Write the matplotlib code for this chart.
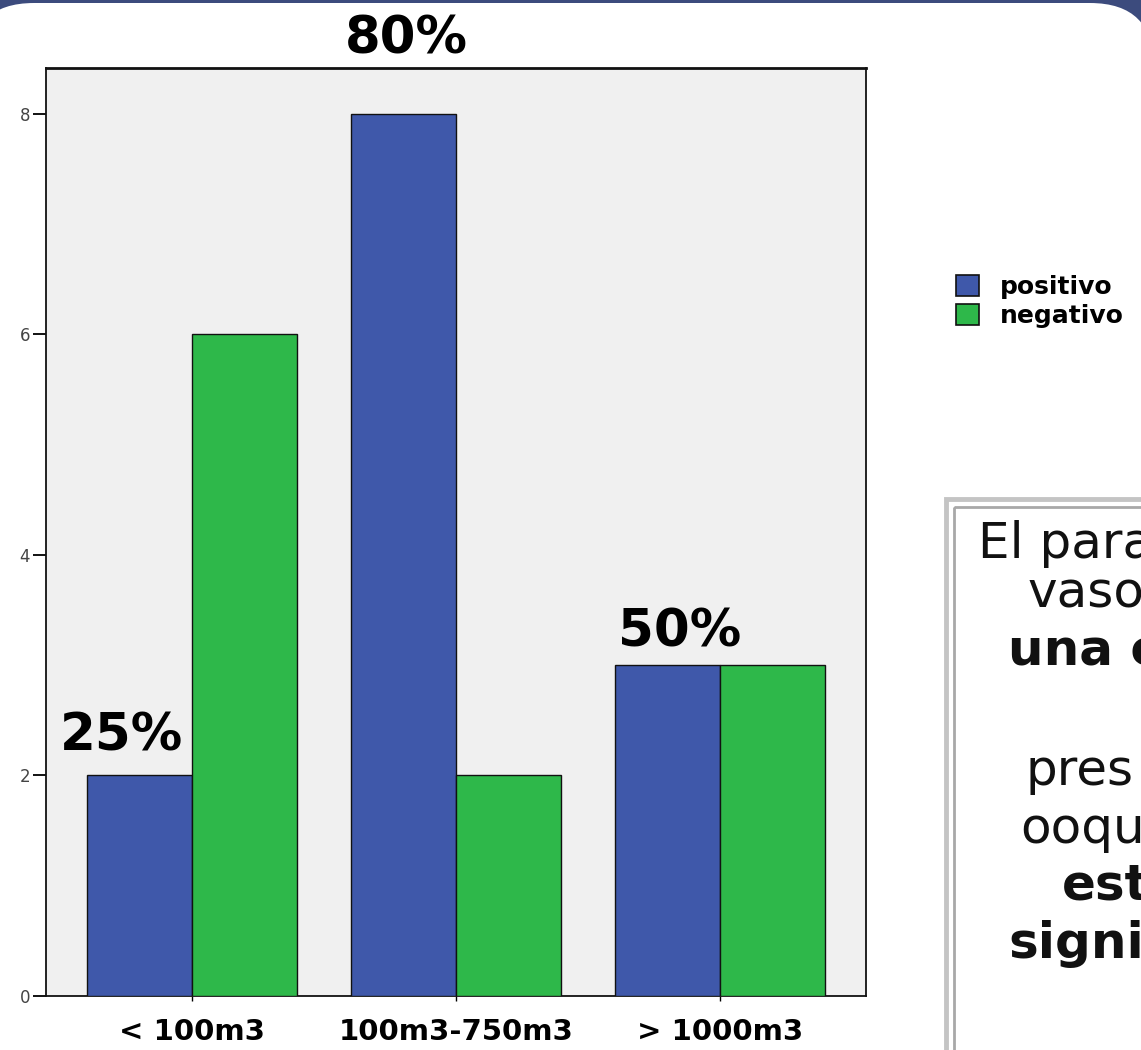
import matplotlib
matplotlib.use("Agg")
import matplotlib.pyplot as plt
from matplotlib.patches import FancyBboxPatch, Rectangle, Patch
import numpy as np

# ---- data ----
categories = ["< 100m3", "100m3-750m3", "> 1000m3"]
positivo = [2, 8, 3]
negativo = [6, 2, 3]
series_names = ["positivo", "negativo"]
pct_labels = ["25%", "80%", "50%"]
y_ticks = [0, 2, 4, 6, 8]
box_lines = ["El para", "vaso", "una c", "pres", "ooqu", "est", "signi"]
box_bold = [False, False, True, False, False, True, True]

W, H = 1141, 1050
fig = plt.figure(figsize=(W / 100, H / 100), dpi=100)
fig.patch.set_facecolor("#3C4B7D")

# slide background (white rounded panel) and decorations, in pixel coords
bg = fig.add_axes([0, 0, 1, 1], zorder=0)
bg.set_xlim(0, W)
bg.set_ylim(H, 0)
bg.axis("off")
bg.add_patch(FancyBboxPatch((-30, 3), 1184, 1300,
                            boxstyle="round,pad=0,rounding_size=64",
                            facecolor="white", edgecolor="none"))

# text box with double gray border (cut off at the slide edge)
bg.add_patch(Rectangle((946, 499), 400, 700, facecolor="white",
                       edgecolor="#c4c4c4", lw=3.5))
bg.add_patch(Rectangle((954, 507), 400, 700, facecolor="none",
                       edgecolor="#a8a8a8", lw=2))
line_x = [978, 1028, 1008, 1025, 1020, 1062, 1008]
line_y = [558, 608, 666, 785, 843, 900, 958]
for txt, bold, lx, ly in zip(box_lines, box_bold, line_x, line_y):
    bg.text(lx, ly, txt, fontsize=36, fontweight="bold" if bold else "normal",
            color="#111111", ha="left", va="baseline", family="DejaVu Sans")

# ---- chart ----
ax = fig.add_axes([46 / W, 1 - 996 / H, 820 / W, 928 / H], zorder=2)
ax.set_facecolor("#F0F0F0")
x = np.arange(len(categories))
w = 0.397
blue = "#3F58AA"
green = "#2EB84A"
ax.bar(x - w / 2, positivo, width=w, color=blue, edgecolor="#111111", lw=1.0, zorder=3)
ax.bar(x + w / 2, negativo, width=w, color=green, edgecolor="#111111", lw=1.0, zorder=3)

ax.set_xlim(-0.552, 2.552)
ax.set_ylim(0, 8.417)
ax.set_yticks(y_ticks)
ax.set_yticklabels([str(t) for t in y_ticks], fontsize=12)
ax.tick_params(axis="y", direction="out", length=9.5, width=1.4, pad=2, colors="#111111",
               labelcolor="#444444")
ax.set_xticks(x)
ax.set_xticklabels(categories, fontsize=21, fontweight="bold")
ax.tick_params(axis="x", direction="out", length=3.5, width=1.0, pad=12)
for s in ax.spines.values():
    s.set_color("#111111")
    s.set_linewidth(1.3)
ax.spines["top"].set_linewidth(2)

# percentage annotations above the blue bars
pct_dx = [-0.067, 0.012, 0.044]
pct_dy = [0.23, 0.55, 0.17]
for i, lab in enumerate(pct_labels):
    ax.text(x[i] - w / 2 + pct_dx[i], positivo[i] + pct_dy[i], lab,
            fontsize=37, fontweight="bold", ha="center", va="baseline",
            clip_on=False, zorder=5)

# legend
handles = [Patch(facecolor=blue, edgecolor="#111111", lw=1.2),
           Patch(facecolor=green, edgecolor="#111111", lw=1.2)]
fig.legend(handles, series_names, loc="upper left",
           bbox_to_anchor=(956 / W, 1 - 275 / H), frameon=False,
           prop={"size": 18, "weight": "bold"}, handlelength=0.9,
           handleheight=0.9, handletextpad=0.85, labelspacing=0.2,
           borderpad=0, borderaxespad=0)

fig.savefig("out.png", dpi=100, facecolor=fig.get_facecolor())
